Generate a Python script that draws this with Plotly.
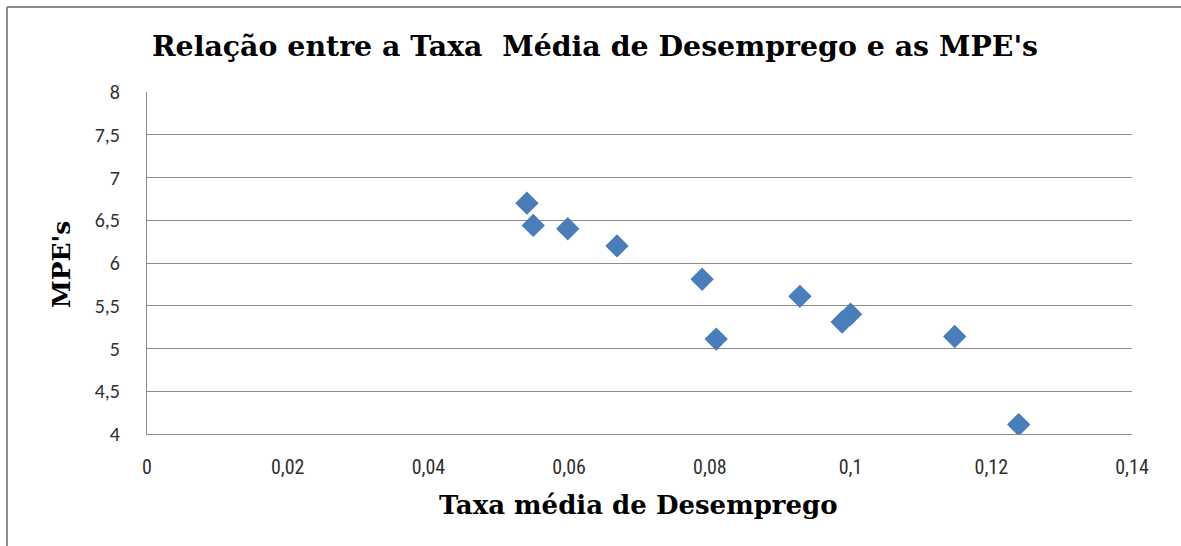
import plotly.graph_objects as go

# Data
taxa_desemprego = [0.054, 0.0549, 0.0598, 0.0668, 0.0789, 0.0809, 0.0928, 0.0988, 0.1000, 0.1148, 0.1239]
mpes = [6.70, 6.44, 6.40, 6.20, 5.81, 5.11, 5.61, 5.31, 5.40, 5.14, 4.11]

x_ticks = [0, 0.02, 0.04, 0.06, 0.08, 0.1, 0.12, 0.14]
x_tick_labels = ["0", "0,02", "0,04", "0,06", "0,08", "0,1", "0,12", "0,14"]
y_ticks = [4, 4.5, 5, 5.5, 6, 6.5, 7, 7.5, 8]
y_tick_labels = ["4", "4,5", "5", "5,5", "6", "6,5", "7", "7,5", "8"]

W, H = 1181, 546
# target screen pixels of plot area
SL, SR, ST, SB = 147, 1132, 92, 434
L = SL
T = ST
pw = SR - SL
ph = SB - ST
R = W - L - pw
B = H - T - ph

def px(xs):
    return (xs - L) / pw

def py(ys):
    return (T + ph - ys) / ph

serif = "DejaVu Serif, serif"
tickfont_y = dict(family="Carlito, Calibri, Open Sans, Liberation Sans, sans-serif", size=20, color="#303030")
tickfont_x = dict(family="Liberation Sans Narrow, Arial Narrow, Roboto Condensed, Liberation Sans, sans-serif", size=20, color="#303030")

fig = go.Figure(
    go.Scatter(
        x=taxa_desemprego,
        y=mpes,
        mode="markers",
        marker=dict(symbol="diamond", size=18, color="#4A7EBB", line=dict(width=0)),
        hoverinfo="x+y",
    )
)

fig.update_layout(
    width=W,
    height=H,
    margin=dict(l=L, r=R, t=T, b=B),
    paper_bgcolor="white",
    plot_bgcolor="white",
    showlegend=False,
    xaxis=dict(
        range=[0, 0.14],
        tickvals=x_ticks,
        ticktext=x_tick_labels,
        showgrid=False,
        zeroline=False,
        showline=True,
        linecolor="#8C8C8C",
        linewidth=1,
        ticks="",
        tickfont=tickfont_x,
        ticklabelstandoff=15,
        fixedrange=True,
    ),
    yaxis=dict(
        range=[4, 8],
        tickvals=y_ticks,
        ticktext=y_tick_labels,
        showgrid=True,
        gridcolor="#8C8C8C",
        gridwidth=1,
        zeroline=False,
        showline=True,
        linecolor="#8C8C8C",
        linewidth=1,
        ticks="",
        tickfont=tickfont_y,
        ticklabelstandoff=22,
        fixedrange=True,
    ),
    annotations=[
        dict(
            text="<b>Relação entre a Taxa  Média de Desemprego e as MPE's</b>",
            x=px(595), y=py(46), xref="paper", yref="paper",
            xanchor="center", yanchor="middle", showarrow=False,
            font=dict(family=serif, size=28.4, color="black"),
        ),
        dict(
            text="<b>Taxa média de Desemprego</b>",
            x=px(638), y=py(505), xref="paper", yref="paper",
            xanchor="center", yanchor="middle", showarrow=False,
            font=dict(family=serif, size=26, color="black"),
        ),
        dict(
            text="<b>MPE's</b>",
            x=px(61), y=py(265), xref="paper", yref="paper",
            xanchor="center", yanchor="middle", showarrow=False, textangle=-90,
            font=dict(family=serif, size=25, color="black"),
        ),
    ],
    shapes=[
        dict(
            type="line", xref="paper", yref="paper",
            x0=px(7), x1=px(7), y0=py(7), y1=py(600),
            line=dict(color="#8C8C8C", width=2),
        ),
        dict(
            type="line", xref="paper", yref="paper",
            x0=px(7), x1=px(1200), y0=py(7), y1=py(7),
            line=dict(color="#8C8C8C", width=2),
        ),
    ],
)

fig.write_html("out.html", config={"displayModeBar": False})

# remove the default page margin so the figure sits at the window's top-left corner
with open("out.html", "r", encoding="utf-8") as f:
    html = f.read()
html = html.replace("<head>", "<head><style>body{margin:0;padding:0;}</style>", 1)
with open("out.html", "w", encoding="utf-8") as f:
    f.write(html)
